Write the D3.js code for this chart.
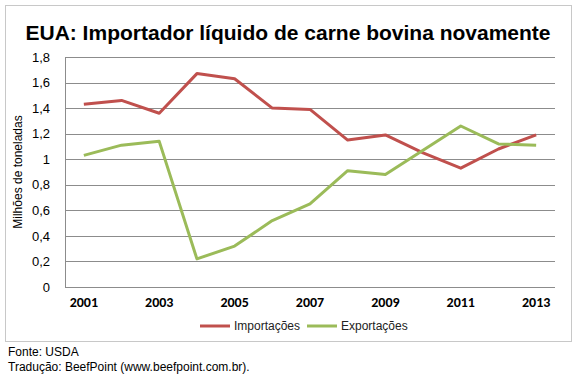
<!DOCTYPE html>
<html>
<head>
<meta charset="utf-8">
<script src="https://cdn.jsdelivr.net/npm/d3@7"></script>
<style>
  body { margin: 0; background: #fff; }
  text { font-family: "Liberation Sans", Arial, sans-serif; }
</style>
</head>
<body>
<div class="chart"></div>
<script>
// Data (million tonnes)
var years = [2001, 2002, 2003, 2004, 2005, 2006, 2007, 2008, 2009, 2010, 2011, 2012, 2013];
var importacoes = [1.43, 1.46, 1.36, 1.67, 1.63, 1.40, 1.39, 1.15, 1.19, 1.05, 0.93, 1.08, 1.19];
var exportacoes = [1.03, 1.11, 1.14, 0.22, 0.32, 0.52, 0.65, 0.91, 0.88, 1.07, 1.26, 1.12, 1.11];
var yTicks = [0, 0.2, 0.4, 0.6, 0.8, 1, 1.2, 1.4, 1.6, 1.8];
var xTickYears = [2001, 2003, 2005, 2007, 2009, 2011, 2013];
var seriesNames = ["Importações", "Exportações"];
var seriesColors = ["#C0504D", "#9BBB59"];

var svgWidth = 578;
var svgHeight = 381;
var margin = { top: 57, right: 23, bottom: 94, left: 65 };
var width = svgWidth - margin.left - margin.right;
var height = svgHeight - margin.top - margin.bottom;

var svg = d3.select(".chart")
  .append("svg")
  .attr("width", svgWidth)
  .attr("height", svgHeight);

// outer frame
svg.append("rect")
  .attr("x", 5.5).attr("y", 5.5)
  .attr("width", 566).attr("height", 336)
  .attr("fill", "none")
  .attr("stroke", "#c8c8c8");

// title
svg.append("text")
  .attr("x", 288).attr("y", 40)
  .attr("text-anchor", "middle")
  .style("font-size", "21px")
  .style("font-weight", "bold")
  .text("EUA: Importador líquido de carne bovina novamente");

var chart = svg.append("g")
  .attr("transform", "translate(" + margin.left + "," + margin.top + ")");

var xScale = d3.scaleBand().domain(years).range([0, width]);
var yScale = d3.scaleLinear().domain([0, 1.8]).range([height, 0]);
var xPos = function(yr) { return xScale(yr) + xScale.bandwidth() / 2; };

// gridlines
chart.append("g")
  .selectAll("line")
  .data(yTicks)
  .enter()
  .append("line")
  .attr("x1", 0).attr("x2", width)
  .attr("y1", function(d) { return Math.round(yScale(d)) + 0.5; })
  .attr("y2", function(d) { return Math.round(yScale(d)) + 0.5; })
  .attr("stroke", "#8c8c8c")
  .attr("stroke-width", 1);

// left axis line
chart.append("line")
  .attr("x1", 0.5).attr("x2", 0.5)
  .attr("y1", 0).attr("y2", height)
  .attr("stroke", "#8c8c8c");

// y axis labels
var leftAxis = d3.axisLeft(yScale)
  .tickValues(yTicks)
  .tickSize(0)
  .tickPadding(15)
  .tickFormat(function(d) { return String(d).replace(".", ","); });
var yAxisG = chart.append("g").call(leftAxis);
yAxisG.select(".domain").remove();
yAxisG.selectAll("text")
  .style("font-family", "'Liberation Sans', Arial, sans-serif")
  .style("font-size", "13px")
  .attr("fill", "#000");

// x axis labels
var bottomAxis = d3.axisBottom(xScale)
  .tickValues(xTickYears)
  .tickSize(0)
  .tickPadding(10);
var xAxisG = chart.append("g")
  .attr("transform", "translate(0," + height + ")")
  .call(bottomAxis);
xAxisG.select(".domain").remove();
xAxisG.selectAll("text")
  .style("font-family", "Carlito, 'Open Sans', Arial, sans-serif")
  .style("font-size", "14px")
  .style("font-weight", "bold")
  .attr("fill", "#000");

// y axis title
svg.append("text")
  .attr("transform", "rotate(-90)")
  .attr("x", -(margin.top + height / 2))
  .attr("y", 22)
  .attr("text-anchor", "middle")
  .style("font-size", "12px")
  .text("Milhões de toneladas");

// lines
var line = d3.line()
  .x(function(d, i) { return xPos(years[i]); })
  .y(function(d) { return yScale(d); });

[importacoes, exportacoes].forEach(function(series, i) {
  chart.append("path")
    .datum(series)
    .attr("fill", "none")
    .attr("stroke", seriesColors[i])
    .attr("stroke-width", 3)
    .attr("stroke-linejoin", "round")
    .attr("d", line);
});

// legend
var legendX = [200, 307];
var legend = svg.append("g");
seriesNames.forEach(function(name, i) {
  legend.append("line")
    .attr("x1", legendX[i]).attr("x2", legendX[i] + 30)
    .attr("y1", 326).attr("y2", 326)
    .attr("stroke", seriesColors[i])
    .attr("stroke-width", 3);
  legend.append("text")
    .attr("x", legendX[i] + 34)
    .attr("y", 330)
    .style("font-size", "12px")
    .attr("fill", "#222")
    .text(name);
});

// footer
svg.append("text")
  .attr("x", 8).attr("y", 356)
  .style("font-size", "12px")
  .text("Fonte: USDA");
svg.append("text")
  .attr("x", 8).attr("y", 371)
  .style("font-size", "12px")
  .text("Tradução: BeefPoint (www.beefpoint.com.br).");
</script>
</body>
</html>
